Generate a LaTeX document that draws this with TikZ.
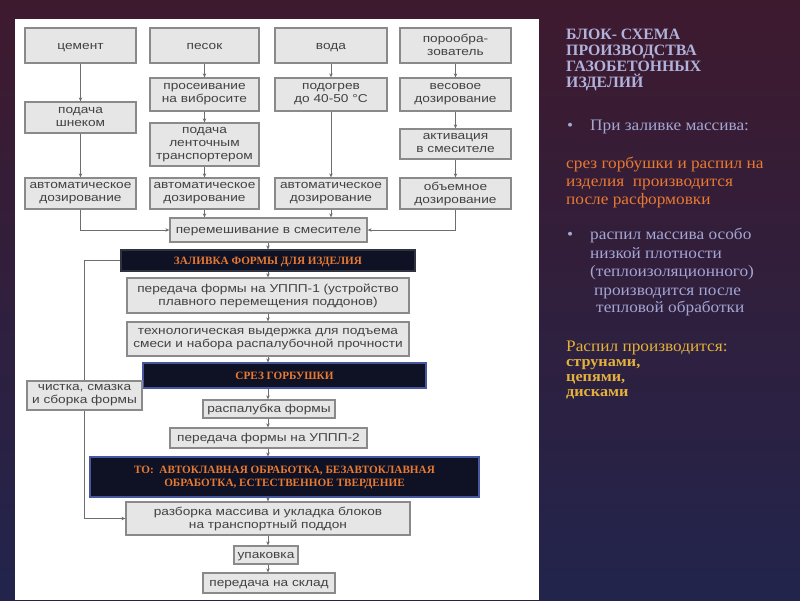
\documentclass[tikz,border=0pt]{standalone}
\usepackage{fontspec}
\setmainfont{Liberation Serif}
\newfontfamily\boxfont[FakeStretch=1.2]{Liberation Sans}
\newfontfamily\rfont[FakeStretch=1.08]{Liberation Serif}
\usetikzlibrary{arrows.meta}
\newcommand{\bxstrut}{\rule[-2pt]{0pt}{12pt}}
\definecolor{bgtop}{RGB}{62,26,46}
\definecolor{bgmid}{RGB}{48,36,74}
\definecolor{bgbot}{RGB}{34,36,76}
\definecolor{boxfill}{RGB}{230,230,230}
\definecolor{boxline}{RGB}{138,138,138}
\definecolor{boxtext}{RGB}{66,66,66}
\definecolor{conn}{RGB}{110,110,110}
\definecolor{darkfill}{RGB}{15,17,36}
\definecolor{darkline}{RGB}{70,86,160}
\definecolor{orangetxt}{RGB}{232,122,50}
\definecolor{titlecol}{RGB}{176,178,220}
\definecolor{lavtxt}{RGB}{164,166,212}
\definecolor{goldtxt}{RGB}{228,178,60}
\tikzset{
  pbox/.style={draw=boxline, fill=boxfill, line width=1.3pt, text=boxtext,
    font=\boxfont\fontsize{11.4}{13}\selectfont, align=center, inner sep=0pt,
    execute at begin node=\bxstrut, execute at end node=\bxstrut},
  dbox/.style={draw=darkline, fill=darkfill, line width=1.1pt, text=orangetxt,
    font=\bfseries\fontsize{11.2}{13}\selectfont, align=center, inner sep=0pt,
    execute at begin node=\bxstrut, execute at end node=\bxstrut},
  conn/.style={draw=conn, line width=0.9pt},
  arr/.style={conn, -{Stealth[length=4pt,width=3.5pt]}},
  rtext/.style={anchor=base west, inner sep=0pt},
  ttl/.style={rtext, font=\bfseries\fontsize{15.8}{16}\selectfont, text=titlecol},
  rbody/.style={rtext, font=\rfont\fontsize{16}{18}\selectfont},
  rbold/.style={rtext, font=\rfont\bfseries\fontsize{15}{16}\selectfont, text=goldtxt}
}
\begin{document}
\begin{tikzpicture}[x=1pt,y=-1pt]
\useasboundingbox (0,0) rectangle (800,600);
\shade[top color=bgtop, middle color=bgmid, bottom color=bgbot] (0,0) rectangle (800,600);
\fill[white] (15,19) rectangle (539,600);

% row 1
\node[pbox, minimum width=111pt, minimum height=35pt] (cem) at (80.5,45.5) {цемент};
\node[pbox, minimum width=109pt, minimum height=35pt] (pes) at (204.5,45.5) {песок};
\node[pbox, minimum width=112pt, minimum height=35pt] (vod) at (331,45.5) {вода};
\node[pbox, minimum width=111pt, minimum height=35pt] (por) at (455.5,45.5) {порообра-\\зователь};
% row 2
\node[pbox, minimum width=111pt, minimum height=31pt] (shnek) at (80.5,117.5) {подача\\шнеком};
\node[pbox, minimum width=109pt, minimum height=33pt] (pros) at (204.5,94.5) {просеивание\\на вибросите};
\node[pbox, minimum width=112pt, minimum height=33pt] (podo) at (331,94.5) {подогрев\\до 40-50 °C};
\node[pbox, minimum width=111pt, minimum height=33pt] (ves) at (455.5,94.5) {весовое\\дозирование};
% row 3
\node[pbox, minimum width=109pt, minimum height=43pt] (lent) at (204.5,144.5) {подача\\ленточным\\транспортером};
\node[pbox, minimum width=111pt, minimum height=30pt] (akt) at (455.5,144) {активация\\в смесителе};
% row 4
\node[pbox, minimum width=111pt, minimum height=31pt] (a1) at (80.5,193.5) {автоматическое\\дозирование};
\node[pbox, minimum width=109pt, minimum height=31pt] (a2) at (204.5,193.5) {автоматическое\\дозирование};
\node[pbox, minimum width=112pt, minimum height=31pt] (a3) at (331,193.5) {автоматическое\\дозирование};
\node[pbox, minimum width=111pt, minimum height=31pt] (a4) at (455.5,193.5) {объемное\\дозирование};
% main column
\node[pbox, minimum width=197pt, minimum height=24pt] (mix) at (268.5,230) {перемешивание в смесителе};
\node[dbox, draw=darkfill!70!gray, minimum width=294pt, minimum height=21pt] (zal) at (268,260.5) {ЗАЛИВКА ФОРМЫ ДЛЯ ИЗДЕЛИЯ};
\node[pbox, minimum width=282pt, minimum height=35pt] (u1) at (268,295.5) {передача формы на УППП-1 (устройство\\плавного перемещения поддонов)};
\node[pbox, minimum width=282pt, minimum height=34pt] (tech) at (268,339) {технологическая выдержка для подъема\\смеси и набора распалубочной прочности};
\node[dbox, minimum width=283pt, minimum height=25pt] (srez) at (284.5,375.5) {СРЕЗ ГОРБУШКИ};
\node[pbox, minimum width=132pt, minimum height=18pt] (rasp) at (269,409) {распалубка формы};
\node[pbox, minimum width=197pt, minimum height=20pt] (u2) at (268.5,438) {передача формы на УППП-2};
\node[dbox, minimum width=389pt, minimum height=40pt] (to) at (284.5,477) {ТО:\ \ АВТОКЛАВНАЯ ОБРАБОТКА, БЕЗАВТОКЛАВНАЯ\\ОБРАБОТКА, ЕСТЕСТВЕННОЕ ТВЕРДЕНИЕ};
\node[pbox, minimum width=284pt, minimum height=33pt] (razb) at (268,518.5) {разборка массива и укладка блоков\\на транспортный поддон};
\node[pbox, minimum width=64pt, minimum height=18pt] (upak) at (266,555) {упаковка};
\node[pbox, minimum width=132pt, minimum height=20pt] (sklad) at (269,583) {передача на склад};
\node[pbox, minimum width=115pt, minimum height=29pt] (chist) at (84.5,395.5) {чистка, смазка\\и сборка формы};

% column connectors
\draw[arr] (cem) -- (shnek);
\draw[arr] (shnek) -- (a1);
\draw[arr] (pes) -- (pros);
\draw[arr] (pros) -- (lent);
\draw[arr] (lent) -- (a2);
\draw[arr] (vod) -- (podo);
\draw[arr] (podo) -- (a3);
\draw[arr] (por) -- (ves);
\draw[arr] (ves) -- (akt);
\draw[arr] (akt) -- (a4);
\draw[arr] (a1.south) |- (mix.west);
\draw[arr] (a4.south) |- (mix.east);
\draw[arr] (a2.south) -- (a2.south |- mix.north);
\draw[arr] (a3.south) -- (a3.south |- mix.north);
% main column
\coordinate (cx) at (268,0);
\draw[arr] (cx |- mix.south) -- (cx |- zal.north);
\draw[arr] (cx |- zal.south) -- (cx |- u1.north);
\draw[arr] (cx |- u1.south) -- (cx |- tech.north);
\draw[arr] (cx |- tech.south) -- (cx |- srez.north);
\draw[arr] (cx |- srez.south) -- (cx |- rasp.north);
\draw[arr] (cx |- rasp.south) -- (cx |- u2.north);
\draw[arr] (cx |- u2.south) -- (cx |- to.north);
\draw[arr] (cx |- to.south) -- (cx |- razb.north);
\draw[arr] (cx |- razb.south) -- (cx |- upak.north);
\draw[arr] (cx |- upak.south) -- (cx |- sklad.north);
% loop
\draw[conn] (chist.north) |- (zal.west);
\draw[arr] (chist.south) |- (razb.west);

% right text
\node[ttl] (t1) at (566,39) {БЛОК- СХЕМА};
\node[ttl] (t2) at (566,55) {ПРОИЗВОДСТВА};
\node[ttl] (t3) at (566,71) {ГАЗОБЕТОННЫХ};
\node[ttl] (t4) at (566,87) {ИЗДЕЛИЙ};

\node[rbody, text=lavtxt] (b1) at (567,130) {•};
\node[rbody, text=lavtxt] (l1) at (590,130) {При заливке массива:};

\node[rbody, text=orangetxt] (o1) at (566,168) {срез горбушки и распил на};
\node[rbody, text=orangetxt] (o2) at (566,186) {изделия\ \ производится};
\node[rbody, text=orangetxt] (o3) at (566,204) {после расформовки};

\node[rbody, text=lavtxt] (b2) at (567,239) {•};
\node[rbody, text=lavtxt] (m1) at (590,239) {распил массива особо};
\node[rbody, text=lavtxt] (m2) at (590,258) {низкой плотности};
\node[rbody, text=lavtxt] (m3) at (590,276) {(теплоизоляционного)};
\node[rbody, text=lavtxt] (m4) at (594,295) {производится после};
\node[rbody, text=lavtxt] (m5) at (596,312) {тепловой обработки};

\node[rbody, text=goldtxt] (g1) at (566,351) {Распил производится:};
\node[rbold] (g2) at (566,366) {струнами,};
\node[rbold] (g3) at (566,381) {цепями,};
\node[rbold] (g4) at (566,396) {дисками};
\end{tikzpicture}
\end{document}
